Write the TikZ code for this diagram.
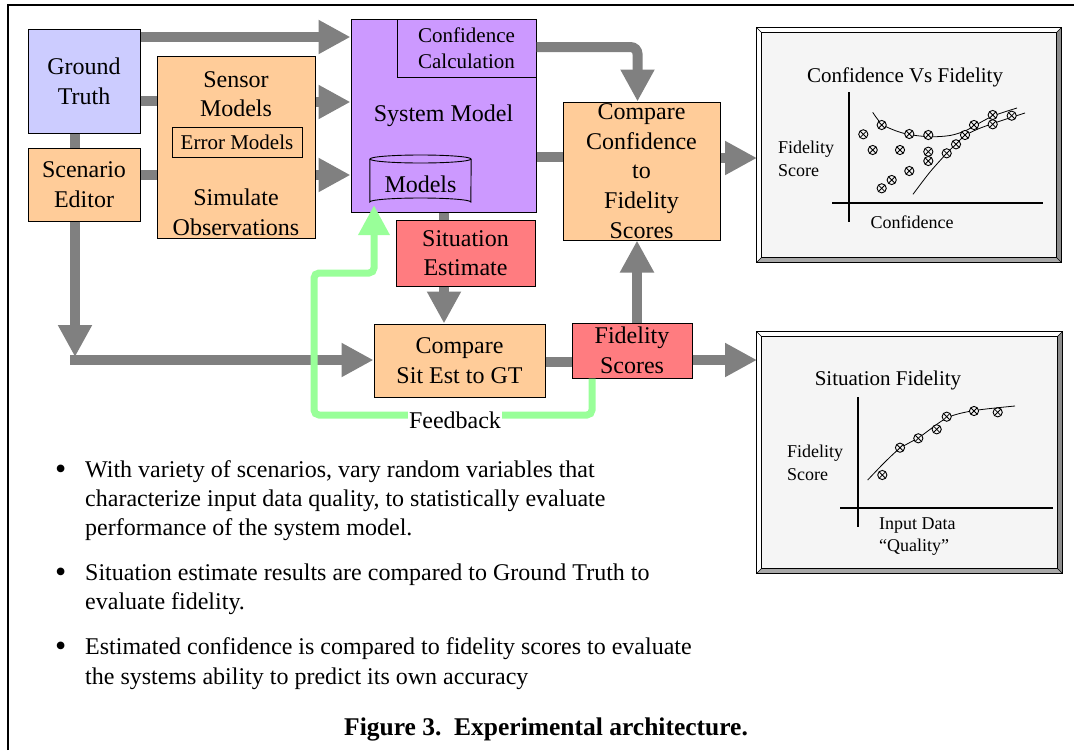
\documentclass[tikz,border=0pt]{standalone}
\usepackage{fontspec}
\setmainfont{Liberation Serif}
\usetikzlibrary{arrows.meta,calc}

\definecolor{gtblue}{HTML}{CCCCFF}
\definecolor{peach}{HTML}{FFCC99}
\definecolor{lilac}{HTML}{CC99FF}
\definecolor{salmon}{HTML}{FF7C80}
\definecolor{fbgreen}{HTML}{99FF99}
\definecolor{flowgray}{HTML}{808080}
\definecolor{chartbg}{HTML}{F5F5F5}
\definecolor{bevdark}{HTML}{8C8C8C}
\definecolor{bevmid}{HTML}{A8A8A8}

\newcommand\bigtext{\fontsize{24}{29.6}\selectfont}
\newcommand\midtext{\fontsize{21}{26}\selectfont}
\newcommand\smalltext{\fontsize{18}{22.5}\selectfont}

% bevelled frame around a chart node
\newcommand\bevelframe[1]{%
  \fill[white] (#1.north west) -- (#1.north east) -- ([shift={(-5,5)}]#1.north east) -- ([shift={(5,5)}]#1.north west) -- cycle;
  \fill[white] (#1.north west) -- ([shift={(5,5)}]#1.north west) -- ([shift={(5,-5)}]#1.south west) -- (#1.south west) -- cycle;
  \fill[bevdark] (#1.north east) -- (#1.south east) -- ([shift={(-5,-5)}]#1.south east) -- ([shift={(-5,5)}]#1.north east) -- cycle;
  \fill[bevmid] (#1.south west) -- (#1.south east) -- ([shift={(-5,-5)}]#1.south east) -- ([shift={(5,-5)}]#1.south west) -- cycle;
  \draw[line width=0.8pt, fill=chartbg] ([shift={(5,5)}]#1.north west) rectangle ([shift={(-5,-5)}]#1.south east);
  \draw[line width=0.8pt] (#1.north west) rectangle (#1.south east);
  \draw[line width=0.6pt] (#1.north west) -- ++(5,5) (#1.north east) -- ++(-5,5)
    (#1.south west) -- ++(5,-5) (#1.south east) -- ++(-5,-5);
}

\begin{document}
\begin{tikzpicture}[x=1pt,y=-1pt,
  box/.style={draw=black, line width=1pt, inner sep=0pt, align=center, font=\bigtext},
  label/.style={inner sep=0pt, align=center},
  flow/.style={draw=flowgray, line width=10pt, -{Triangle[width=32pt,length=32pt]}},
  bar/.style={draw=flowgray, line width=10pt},
  fback/.style={draw=fbgreen, line width=7pt, rounded corners=5pt, -{Triangle[width=30pt,length=30pt]}},
  axis/.style={line width=2.6pt},
  curve/.style={line width=0.8pt},
  chart/.style={inner sep=0pt},
  omark/.pic={\draw[line width=0.9pt, fill=chartbg] (0,0) circle[radius=4.6pt];
              \draw[line width=0.8pt] (-3.2,-3.2) -- (3.2,3.2) (-3.2,3.2) -- (3.2,-3.2);}
]
\useasboundingbox (0,0) rectangle (1074,750);

% page frame
\draw[line width=1.6pt] (8,750) -- (8,5) -- (1074,5);

% ---------- boxes ----------
\node[box, fill=gtblue, minimum width=112pt, minimum height=104pt] (gt) at (84,81) {Ground\\Truth};
\node[box, fill=peach, minimum width=112pt, minimum height=73pt] (se) at (84,184.5) {Scenario\\Editor};

\node[box, fill=peach, minimum width=158pt, minimum height=182pt] (sens) at (236,147) {};
\node[label, font=\bigtext] (sensT) at (236,94) {Sensor\\Models};
\node[box, line width=0.8pt, font=\midtext, minimum width=130pt, minimum height=30pt] (err) at (237,142) {Error Models};
\node[label, font=\bigtext] (simT) at (236,212) {Simulate\\Observations};

\node[box, fill=lilac, minimum width=185pt, minimum height=193pt] (sm) at (443.5,115.5) {System Model};
\node[box, fill=lilac, font=\midtext, minimum width=139pt, minimum height=58pt] (calc) at (466.5,48) {Confidence\\Calculation};

% Models store (cylinder)
\node[label, font=\bigtext, minimum width=101pt, minimum height=48pt] (models) at (420.5,181) {};
\fill[lilac] (models.west |- 0,159) -- (models.west |- 0,202) arc[start angle=180, end angle=360, x radius=50.5pt, y radius=-4pt]
  -- (models.east |- 0,159) -- cycle;
\draw[line width=0.9pt] (models.west |- 0,159) -- (models.west |- 0,202) arc[start angle=180, end angle=360, x radius=50.5pt, y radius=-4pt]
  -- (models.east |- 0,159);
\draw[line width=0.9pt, fill=lilac] (models.north |- 0,159) ellipse[x radius=50.5pt, y radius=4pt];
\node[label, font=\bigtext] (modelsT) at (420.5,184) {Models};

\node[box, fill=peach, minimum width=157pt, minimum height=138pt] (cc) at (641.5,171) {Compare\\Confidence\\to\\Fidelity\\Scores};
\node[box, fill=salmon, minimum width=139pt, minimum height=66pt] (sit) at (465.5,253) {Situation\\Estimate};
\node[box, fill=peach, minimum width=171pt, minimum height=73pt] (cse) at (459.5,360.5) {Compare\\Sit Est to GT};
\node[box, fill=salmon, minimum width=120pt, minimum height=55pt] (fid) at (632,350.5) {Fidelity\\Scores};

% ---------- gray flows ----------
\draw[flow] (gt.east |- 0,37) -- (sm.west |- 0,37);
\draw[bar]  (gt.east |- 0,101) -- (sens.west |- 0,101);
\draw[flow] (sens.east |- 0,102) -- (sm.west |- 0,102);
\draw[bar]  (se.east |- 0,175) -- (sens.west |- 0,175);
\draw[flow] (sens.east |- 0,175) -- (sm.west |- 0,175);
\draw[bar]  (gt.south -| 75,0) -- (se.north -| 75,0);
\coordinate (bend) at (75,360);
\draw[flow, shorten <=-5pt] (bend) -- (cse.west |- bend);
\draw[flow] (se.south -| bend) -- ([yshift=3pt]bend);
\draw[bar]  (sm.east |- 0,157) -- (cc.west |- 0,157);
\draw[flow, rounded corners=7pt] (calc.east |- 0,47) -| ([xshift=-4pt]cc.north);
\draw[flow] (cc.east |- 0,158) -- (757,158) coordinate (c1in);
\draw[bar]  (sm.south -| 444,0) -- (sit.north -| 444,0);
\draw[flow] (sit.south -| 444,0) -- (cse.north -| 444,0);
\draw[bar]  (cse.east |- 0,362) -- (fid.west |- 0,362);
\draw[flow] (fid.north -| 637,0) -- (cc.south -| 637,0);
\draw[flow] (fid.east |- 0,360) -- (757,360) coordinate (c2in);

% ---------- feedback loop ----------
\draw[fback] (fid.south -| 592,0) -- (592,415) -- (314,415) -- (314,273) -- (374,273) -- (models.south -| 374,0);
\node[fill=white, inner xsep=1pt, inner ysep=2pt, font=\bigtext] (fbl) at (455,420) {Feedback};

% ---------- chart: confidence vs fidelity ----------
\node[chart, minimum width=304pt, minimum height=234pt] (chartA) at (909,145) {};
\bevelframe{chartA}
\node[label, font=\midtext] (tA) at (905,77) {Confidence Vs Fidelity};
\draw[axis] (849,92) -- (849,222);
\draw[axis] (832,203) -- (1043,203);
\node[label, font=\smalltext, align=left, anchor=west] (yA) at (778,159) {Fidelity\\Score};
\node[label, font=\smalltext] (xA) at (912,222) {Confidence};
\draw[curve] plot[smooth] coordinates {(872.7,112.3) (881.7,124) (895,130.5) (909,134.5) (930,136.8) (950,135.5) (965,131) (975,125.5) (993,116) (1017,108)};
\draw[curve] plot[smooth] coordinates {(913,194.3) (930,172) (947,153) (956,144) (965,135.5) (978,129) (993,123.5) (1011,117.5) (1025,113)};
\foreach \p in {(863.3,134.3),(881.7,125),(909.3,134),(928.3,135),(872.7,150),(900,150),
                (928.3,151.7),(928.3,161),(909.3,171),(891.7,180),(881.7,188.3),(946.7,153.3),
                (956,144.3),(965,135),(974,125),(992.7,115),(992.7,124.3),(1011.7,115.7)}
  \pic at \p {omark};

% ---------- chart: situation fidelity ----------
\node[chart, minimum width=305pt, minimum height=241pt] (chartB) at (909.5,452.5) {};
\bevelframe{chartB}
\node[label, font=\midtext] (tB) at (888,380) {Situation Fidelity};
\draw[axis] (858,397) -- (858,527);
\draw[axis] (840,508) -- (1053,508);
\node[label, font=\smalltext, align=left, anchor=west] (yB) at (787,463) {Fidelity\\Score};
\node[label, font=\smalltext, align=left, anchor=west] (xB) at (879,536.5) {Input Data\\“Quality”};
\draw[curve] plot[smooth] coordinates {(867.7,480) (884,463) (900,448.3) (920,436.7) (946.7,418) (973.3,410.7) (1015,406)};
\foreach \p in {(882.3,475),(900,447.7),(918.3,438.3),(936.7,429.3),(946.7,416.7),(974,411),(997.7,412.3)}
  \pic at \p {omark};

% ---------- notes ----------
\node[label, font=\fontsize{32}{32}\selectfont, anchor=base west] (d1) at (55,479) {\textbullet};
\node[label, font=\bigtext, anchor=base west] (n1a) at (85,477) {With variety of scenarios, vary random variables that};
\node[label, font=\bigtext, anchor=base west] (n1b) at (85,506) {characterize input data quality, to statistically evaluate};
\node[label, font=\bigtext, anchor=base west] (n1c) at (85,535) {performance of the system model.};
\node[label, font=\fontsize{32}{32}\selectfont, anchor=base west] (d2) at (55,582) {\textbullet};
\node[label, font=\bigtext, anchor=base west] (n2a) at (85,580) {Situation estimate results are compared to Ground Truth to};
\node[label, font=\bigtext, anchor=base west] (n2b) at (85,609) {evaluate fidelity.};
\node[label, font=\fontsize{32}{32}\selectfont, anchor=base west] (d3) at (55,656) {\textbullet};
\node[label, font=\bigtext, anchor=base west] (n3a) at (85,654) {Estimated confidence is compared to fidelity scores to evaluate};
\node[label, font=\bigtext, anchor=base west] (n3b) at (85,684) {the systems ability to predict its own accuracy};

\node[label, font=\fontsize{25.5}{30}\selectfont\bfseries, anchor=base west] (cap) at (344,735) {Figure 3.\ \ Experimental architecture.};
\end{tikzpicture}
\end{document}
